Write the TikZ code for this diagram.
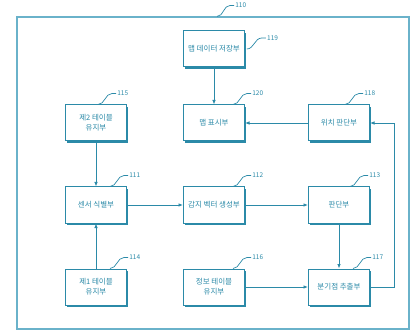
\documentclass[tikz,border=0pt]{standalone}
\usepackage{fontspec}
\newfontfamily\kr{Noto Sans CJK KR}
\usetikzlibrary{shadows,arrows.meta}
\definecolor{tl}{HTML}{2B8AA8}
\definecolor{tlo}{HTML}{6AB2CA}
\begin{document}
\begin{tikzpicture}[x=1pt,y=-1pt,
 blk/.style={draw=tl, line width=1pt, fill=white, minimum width=61pt, minimum height=36pt, inner sep=1pt, align=center, font=\kr\fontsize{7.5}{10}\selectfont, text=tl, drop shadow={shadow xshift=1.8pt, shadow yshift=-1.8pt, fill=tl, opacity=1}},
 arr/.style={draw=tl, line width=0.8pt, -{Latex[length=4.5pt,width=3.6pt]}},
 lead/.style={draw=tl, line width=0.7pt},
 num/.style={text=tl, font=\kr\fontsize{6.5}{7}\selectfont, anchor=west, inner sep=1pt}]
\useasboundingbox (0,0) rectangle (420,331);
\node[draw=tlo, line width=1.1pt, minimum width=392pt, minimum height=312pt, inner sep=0pt] (n110) at (213,173) {};
\node[blk] (n119) at (214,49) {맵 데이터 저장부};
\node[blk] (n120) at (214,123) {맵 표시부};
\node[blk] (n118) at (339,123) {위치 판단부};
\node[blk] (n115) at (96,123) {제2 테이블\\유지부};
\node[blk] (n111) at (96,205) {센서 식별부};
\node[blk] (n112) at (214,205) {감지 벡터 생성부};
\node[blk] (n113) at (339,205) {판단부};
\node[blk] (n114) at (96,287) {제1 테이블\\유지부};
\node[blk] (n116) at (214,287) {정보 테이블\\유지부};
\node[blk] (n117) at (339,287) {분기점 추출부};
% leaders
\draw[lead] ([xshift=4pt]n110.north) to[out=0,in=180] ++(13,-11) -- ++(4,0) node[num]{110};
\draw[lead] ([xshift=1.8pt]n119.east) to[out=0,in=180] ++(15,-11) -- ++(4,0) node[num]{119};
\draw[lead] ([xshift=2pt]n115.north) to[out=0,in=180] ++(14,-11) -- ++(4,0) node[num]{115};
\draw[lead] ([xshift=19pt]n120.north) to[out=0,in=180] ++(14,-11) -- ++(4,0) node[num]{120};
\draw[lead] ([xshift=6pt]n118.north) to[out=0,in=180] ++(14,-11) -- ++(4,0) node[num]{118};
\draw[lead] ([xshift=14pt]n111.north) to[out=0,in=180] ++(14,-11) -- ++(4,0) node[num]{111};
\draw[lead] ([xshift=19pt]n112.north) to[out=0,in=180] ++(14,-11) -- ++(4,0) node[num]{112};
\draw[lead] ([xshift=11pt]n113.north) to[out=0,in=180] ++(14,-11) -- ++(4,0) node[num]{113};
\draw[lead] ([xshift=14pt]n114.north) to[out=0,in=180] ++(14,-11) -- ++(4,0) node[num]{114};
\draw[lead] ([xshift=19pt]n116.north) to[out=0,in=180] ++(14,-11) -- ++(4,0) node[num]{116};
\draw[lead] ([xshift=14pt]n117.north) to[out=0,in=180] ++(14,-11) -- ++(4,0) node[num]{117};
% arrows
\draw[arr] (n119) -- (n120);
\draw[arr] (n118) -- (n120);
\draw[arr] (n115) -- (n111);
\draw[arr] (n114) -- (n111);
\draw[arr] (n111) -- (n112);
\draw[arr] (n112) -- (n113);
\draw[arr] (n113) -- (n117);
\draw[arr] (n116) -- (n117);
\draw[arr] (n117.east) -- ++(24,0) |- (n118.east);
\end{tikzpicture}
\end{document}
